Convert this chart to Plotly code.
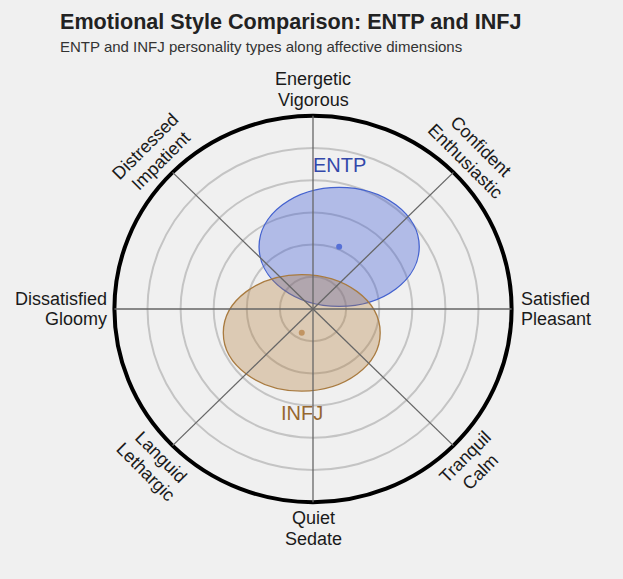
import math
import plotly.graph_objects as go

# personality types and their position / spread on the affect plane
types = ["ENTP", "INFJ"]
center_x = [0.79, -0.34]
center_y = [1.93, -0.74]
spread_x = [2.42, 2.37]
spread_y = [1.85, 1.81]

line_colors = ["#4462cf", "#a97b40"]
fill_colors = ["rgba(60, 90, 215, 0.35)", "rgba(176, 122, 52, 0.32)"]
dot_colors = ["#5670d6", "#c19462"]
text_colors = ["#3348aa", "#96672f"]

# dimension labels, counter-clockwise from the top
dim_angles = [90, 45, 0, -45, -90, -135, 180, 135]
dim_labels = [("Energetic", "Vigorous"), ("Confident", "Enthusiastic"),
              ("Satisfied", "Pleasant"), ("Tranquil", "Calm"),
              ("Quiet", "Sedate"), ("Languid", "Lethargic"),
              ("Dissatisfied", "Gloomy"), ("Distressed", "Impatient")]

rings = [1, 2, 3, 4, 5]
R_OUT = 6

W, H = 623, 579
CX, CY = 313, 309
PX_X, PX_Y = 33.1, 32.2
FONT = "Liberation Sans, Arial, sans-serif"

fig = go.Figure()

shapes = []
for r in rings:
    shapes.append(dict(type="circle", xref="x", yref="y", x0=-r, x1=r, y0=-r, y1=r,
                       line=dict(color="#c4c4c4", width=2), layer="below"))
shapes.append(dict(type="circle", xref="x", yref="y", x0=-R_OUT, x1=R_OUT, y0=-R_OUT, y1=R_OUT,
                   line=dict(color="#000000", width=4), layer="below"))
for i in range(len(types)):
    shapes.append(dict(type="circle", xref="x", yref="y",
                       x0=center_x[i] - spread_x[i], x1=center_x[i] + spread_x[i],
                       y0=center_y[i] - spread_y[i], y1=center_y[i] + spread_y[i],
                       fillcolor=fill_colors[i], line=dict(color=line_colors[i], width=1.3),
                       layer="below"))
for a in dim_angles:
    t = math.radians(a)
    shapes.append(dict(type="line", xref="x", yref="y", x0=0, y0=0,
                       x1=R_OUT * math.cos(t), y1=R_OUT * math.sin(t),
                       line=dict(color="#666666", width=1.3), layer="below"))

fig.add_trace(go.Scatter(x=center_x, y=center_y, mode="markers",
                         marker=dict(color=dot_colors, size=6), hoverinfo="skip",
                         showlegend=False))

annotations = []
for i, name in enumerate(types):
    if center_y[i] >= 0:
        ly = center_y[i] + spread_y[i] + 0.68
    else:
        ly = center_y[i] - spread_y[i] - 0.68
    annotations.append(dict(x=center_x[i], y=ly, xref="x", yref="y", text=name,
                            showarrow=False, font=dict(family=FONT, size=20, color=text_colors[i])))

for a, (l1, l2) in zip(dim_angles, dim_labels):
    t = math.radians(a)
    if a == 0 or a == 180:
        xa = "left" if a == 0 else "right"
        x = 6.22 if a == 0 else -6.16
        for txt, dy in [(l1, 0.31), (l2, -0.31)]:
            annotations.append(dict(x=x, y=dy, xref="x", yref="y", text=txt, showarrow=False,
                                    xanchor=xa, yanchor="middle",
                                    font=dict(family=FONT, size=18, color="#1a1a1a")))
        continue
    if a > 0:
        ang = 90 - a
        radii = [7.14, 6.5]
    else:
        ang = -90 - a
        radii = [6.5, 7.14]
    for txt, r in zip([l1, l2], radii):
        annotations.append(dict(x=r * math.cos(t), y=r * math.sin(t), xref="x", yref="y",
                                text=txt, showarrow=False, textangle=ang,
                                xanchor="center", yanchor="middle",
                                font=dict(family=FONT, size=18, color="#1a1a1a")))

annotations.append(dict(x=58 / W, y=1 - 22 / H, xref="paper", yref="paper",
                        text="<b>Emotional Style Comparison: ENTP and INFJ</b>",
                        showarrow=False, xanchor="left", yanchor="middle",
                        font=dict(family=FONT, size=21.6, color="#222222")))
annotations.append(dict(x=58 / W, y=1 - 46 / H, xref="paper", yref="paper",
                        text="ENTP and INFJ personality types along affective dimensions",
                        showarrow=False, xanchor="left", yanchor="middle",
                        font=dict(family=FONT, size=15, color="#333333")))

fig.update_layout(
    width=W, height=H, autosize=False,
    margin=dict(l=0, r=0, t=0, b=0),
    paper_bgcolor="#f0f0f0", plot_bgcolor="#f0f0f0",
    shapes=shapes, annotations=annotations, showlegend=False,
    xaxis=dict(range=[-CX / PX_X, (W - CX) / PX_X], visible=False, fixedrange=True),
    yaxis=dict(range=[-(H - CY) / PX_Y, CY / PX_Y], visible=False, fixedrange=True),
)

# drop the page's default body margin so the figure sits at the window corner
fig.write_html("out.html", config={"displayModeBar": False},
               post_script="document.body.style.margin='0';")
